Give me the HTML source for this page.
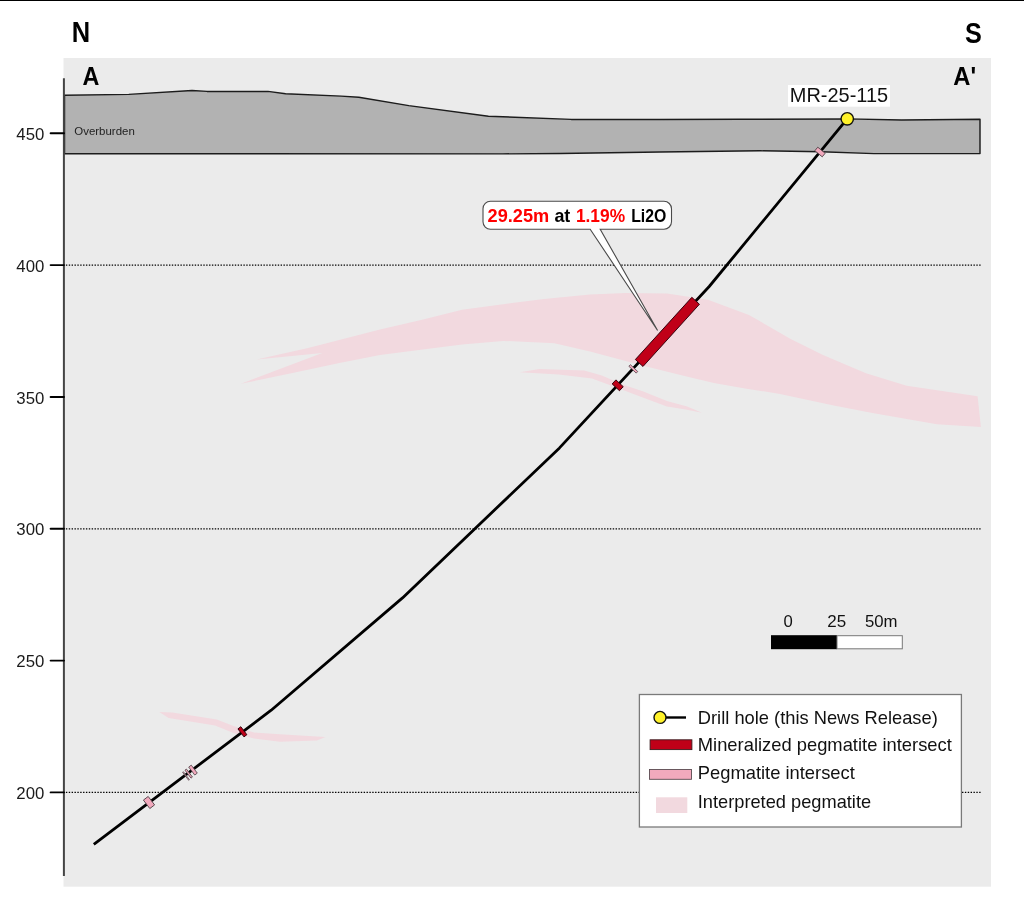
<!DOCTYPE html>
<html><head><meta charset="utf-8"><style>
html,body{margin:0;padding:0;background:#fff;width:1024px;height:904px;overflow:hidden}
svg{display:block;font-family:"Liberation Sans",sans-serif;will-change:transform}
</style></head><body>
<svg width="1024" height="904" viewBox="0 0 1024 904">
<rect x="0" y="0" width="1024" height="1" fill="#000"/>
<rect x="63.5" y="58" width="927.5" height="828.7" fill="#ebebeb"/>
<line x1="65.9" y1="265.05" x2="982" y2="265.05" stroke="#000" stroke-width="1.35" stroke-dasharray="1.4 1.463"/>
<line x1="65.9" y1="528.85" x2="982" y2="528.85" stroke="#000" stroke-width="1.35" stroke-dasharray="1.4 1.463"/>
<line x1="65.9" y1="792.3" x2="982" y2="792.3" stroke="#000" stroke-width="1.35" stroke-dasharray="1.4 1.463"/>
<polygon points="256.6,359.4 308.1,348.1 380.0,329.6 421.0,320.0 462.0,309.7 503.0,304.2 544.0,298.9 590.0,294.4 626.0,293.1 667.0,293.5 708.0,299.7 749.0,314.9 790.7,339.0 823.0,355.0 866.0,373.3 906.7,385.8 977.6,396.3 980.9,427.0 936.8,424.2 872.4,413.0 833.7,405.5 780.0,393.9 745.0,388.4 713.8,383.0 682.5,375.6 643.4,365.8 620.0,359.5 590.0,351.4 554.3,343.2 503.0,340.9 462.0,344.6 421.0,349.7 380.0,354.9 339.4,363.0 292.5,373.1 240.9,383.8 322.2,353.1" fill="#f2d9df"/>
<polygon points="519.8,372.2 539.3,369.1 584.2,370.6 601.8,375.5 624.7,385.3 643.4,391.6 666.9,401.0 687.2,406.4 702.0,412.7 685.6,409.5 666.9,406.4 643.4,397.8 623.0,390.0 592.0,378.4 558.8,374.5" fill="#f2d9df"/>
<polygon points="159.3,712.1 172.3,712.6 216.8,719.5 233.5,726.0 253.9,732.5 279.9,734.3 325.4,737.1 317.0,740.4 279.9,741.8 253.9,738.5 233.5,733.0 215.0,725.5 168.6,717.9" fill="#f2d9df"/>
<polygon points="64.5,95.3 128.8,94.4 192.0,90.5 207.0,91.4 268.0,91.4 285.6,93.8 341.3,96.1 358.8,97.2 408.8,105.6 488.4,116.2 571.2,119.4 660.0,119.5 740.6,119.3 847.0,118.9 901.7,120.0 980.0,119.3 980.0,153.6 874.0,153.6 821.0,151.8 760.0,150.8 660.0,152.0 560.0,153.5 502.5,153.9 64.5,153.8" fill="#b2b2b2" stroke="#1c1c1c" stroke-width="1.45" stroke-linejoin="round"/>
<text x="74.3" y="135.4" font-size="11.8" fill="#222" textLength="60.5" lengthAdjust="spacingAndGlyphs">Overburden</text>
<line x1="63.9" y1="78.3" x2="63.9" y2="876" stroke="#444" stroke-width="2"/>
<line x1="50.6" y1="133.3" x2="64" y2="133.3" stroke="#000" stroke-width="1.9" stroke-linecap="round"/>
<text x="44.3" y="139.9" font-size="16.8" fill="#1a1a1a" text-anchor="end" textLength="28.0" lengthAdjust="spacingAndGlyphs">450</text>
<line x1="50.6" y1="265.1" x2="64" y2="265.1" stroke="#000" stroke-width="1.9" stroke-linecap="round"/>
<text x="44.3" y="271.70000000000005" font-size="16.8" fill="#1a1a1a" text-anchor="end" textLength="28.0" lengthAdjust="spacingAndGlyphs">400</text>
<line x1="50.6" y1="396.95" x2="64" y2="396.95" stroke="#000" stroke-width="1.9" stroke-linecap="round"/>
<text x="44.3" y="403.55" font-size="16.8" fill="#1a1a1a" text-anchor="end" textLength="28.0" lengthAdjust="spacingAndGlyphs">350</text>
<line x1="50.6" y1="528.8" x2="64" y2="528.8" stroke="#000" stroke-width="1.9" stroke-linecap="round"/>
<text x="44.3" y="535.4" font-size="16.8" fill="#1a1a1a" text-anchor="end" textLength="28.0" lengthAdjust="spacingAndGlyphs">300</text>
<line x1="50.6" y1="660.6" x2="64" y2="660.6" stroke="#000" stroke-width="1.9" stroke-linecap="round"/>
<text x="44.3" y="667.2" font-size="16.8" fill="#1a1a1a" text-anchor="end" textLength="28.0" lengthAdjust="spacingAndGlyphs">250</text>
<line x1="50.6" y1="792.4" x2="64" y2="792.4" stroke="#000" stroke-width="1.9" stroke-linecap="round"/>
<text x="44.3" y="799.0" font-size="16.8" fill="#1a1a1a" text-anchor="end" textLength="28.0" lengthAdjust="spacingAndGlyphs">200</text>
<path d="M490.6,201.3 H664 A7.5,7.5 0 0 1 671.5,208.8 V221.7 A7.5,7.5 0 0 1 664,229.2 H600.2 L657.6,330.5 L590.2,229.2 H490.6 A7.5,7.5 0 0 1 483,221.7 V208.8 A7.5,7.5 0 0 1 490.6,201.3 Z" fill="#fff" stroke="#4a4a4a" stroke-width="1.1"/>
<text x="487.6" y="221.7" font-size="18.2" fill="#ff0000" font-weight="bold" textLength="61.6" lengthAdjust="spacingAndGlyphs">29.25m</text>
<text x="554.4" y="221.7" font-size="18.2" fill="#000" font-weight="bold" textLength="15.9" lengthAdjust="spacingAndGlyphs">at</text>
<text x="575.9" y="221.7" font-size="18.2" fill="#ff0000" font-weight="bold" textLength="49.2" lengthAdjust="spacingAndGlyphs">1.19%</text>
<text x="631.2" y="221.7" font-size="18.2" fill="#000" font-weight="bold" textLength="35.2" lengthAdjust="spacingAndGlyphs">Li2O</text>
<polyline points="93.8,844.4 271.2,710.2 402.5,597.9 559.5,447.9 709.2,286.5 847.2,118.8" fill="none" stroke="#000" stroke-width="2.8" stroke-linejoin="round"/>
<rect x="-42.00" y="-5.15" width="84.00" height="10.30" fill="#c00018" stroke="#30000a" stroke-width="0.9" transform="translate(667.40,331.90) rotate(-47.77)"/>
<rect x="-2.75" y="-5.00" width="5.50" height="10.00" fill="#c00018" stroke="#30000a" stroke-width="0.9" transform="translate(617.70,385.30) rotate(-47.15)"/>
<rect x="-1.10" y="-5.00" width="2.20" height="10.00" fill="#f2a9bd" stroke="#5a4a50" stroke-width="0.8" transform="translate(633.30,368.90) rotate(-47.15)"/>
<rect x="-2.30" y="-4.80" width="4.60" height="9.60" fill="#f2a9bd" stroke="#5a4a50" stroke-width="0.9" transform="translate(820.00,152.00) rotate(-50.54)"/>
<rect x="-1.80" y="-5.00" width="3.60" height="10.00" fill="#c00018" stroke="#30000a" stroke-width="0.9" transform="translate(242.40,731.80) rotate(-37.11)"/>
<rect x="-0.50" y="-5.00" width="1.00" height="10.00" fill="#d9a0b0" stroke="#5a4a50" stroke-width="0.7" transform="translate(186.00,776.00) rotate(-37.11)"/>
<rect x="-0.90" y="-5.00" width="1.80" height="10.00" fill="#f2a9bd" stroke="#5a4a50" stroke-width="0.8" transform="translate(188.70,773.60) rotate(-37.11)"/>
<rect x="-1.60" y="-5.00" width="3.20" height="10.00" fill="#f2a9bd" stroke="#5a4a50" stroke-width="0.8" transform="translate(193.00,770.10) rotate(-37.11)"/>
<rect x="-3.00" y="-5.30" width="6.00" height="10.60" fill="#f2a9bd" stroke="#5a4a50" stroke-width="0.9" transform="translate(149.00,802.50) rotate(-37.11)"/>
<circle cx="847.25" cy="118.8" r="6.2" fill="#fff22a" stroke="#111" stroke-width="1.4"/>
<rect x="788" y="85" width="102" height="21.7" fill="#fff"/>
<text x="789.8" y="102.1" font-size="19.8" fill="#111" textLength="98.3" lengthAdjust="spacingAndGlyphs">MR-25-115</text>
<text x="71.85" y="41.9" font-size="28.7" fill="#000" font-weight="bold" textLength="18.4" lengthAdjust="spacingAndGlyphs">N</text>
<text x="965" y="42.6" font-size="29.8" fill="#000" font-weight="bold" textLength="16.8" lengthAdjust="spacingAndGlyphs">S</text>
<text x="82.4" y="85.2" font-size="25.2" fill="#000" font-weight="bold" textLength="16.85" lengthAdjust="spacingAndGlyphs">A</text>
<text x="953.3" y="85.2" font-size="25.2" fill="#000" font-weight="bold" textLength="22.77" lengthAdjust="spacingAndGlyphs">A'</text>
<rect x="771" y="635.2" width="66" height="14" fill="#000"/>
<rect x="837" y="635.7" width="65.3" height="13.1" fill="#fff" stroke="#777" stroke-width="1"/>
<text x="783.6" y="626.6" font-size="17.4" fill="#111" textLength="9.27" lengthAdjust="spacingAndGlyphs">0</text>
<text x="827.3" y="626.6" font-size="17.4" fill="#111" textLength="18.9" lengthAdjust="spacingAndGlyphs">25</text>
<text x="864.9" y="626.6" font-size="17.4" fill="#111" textLength="32.6" lengthAdjust="spacingAndGlyphs">50m</text>
<rect x="639.4" y="694.5" width="322" height="132.5" fill="#fff" stroke="#7a7a7a" stroke-width="1.3"/>
<line x1="660" y1="717.5" x2="686" y2="717.5" stroke="#000" stroke-width="2.4"/>
<circle cx="660" cy="717.4" r="6" fill="#fff22a" stroke="#111" stroke-width="1.4"/>
<rect x="650.1" y="739.8" width="41.8" height="9.8" fill="#c00018" stroke="#3a1a1e" stroke-width="0.9"/>
<rect x="649.5" y="769.5" width="42" height="9.8" fill="#f2a9bd" stroke="#5a4a50" stroke-width="0.9"/>
<rect x="656" y="797.3" width="31.3" height="15.7" fill="#f2d9df"/>
<text x="697.8" y="724.2" font-size="17.8" fill="#111" textLength="240" lengthAdjust="spacingAndGlyphs">Drill hole (this News Release)</text>
<text x="697.8" y="751.2" font-size="17.8" fill="#111" textLength="254" lengthAdjust="spacingAndGlyphs">Mineralized pegmatite intersect</text>
<text x="697.8" y="779.3" font-size="17.8" fill="#111" textLength="157" lengthAdjust="spacingAndGlyphs">Pegmatite intersect</text>
<text x="697.8" y="808.3" font-size="17.8" fill="#111" textLength="173.3" lengthAdjust="spacingAndGlyphs">Interpreted pegmatite</text>
</svg></body></html>
